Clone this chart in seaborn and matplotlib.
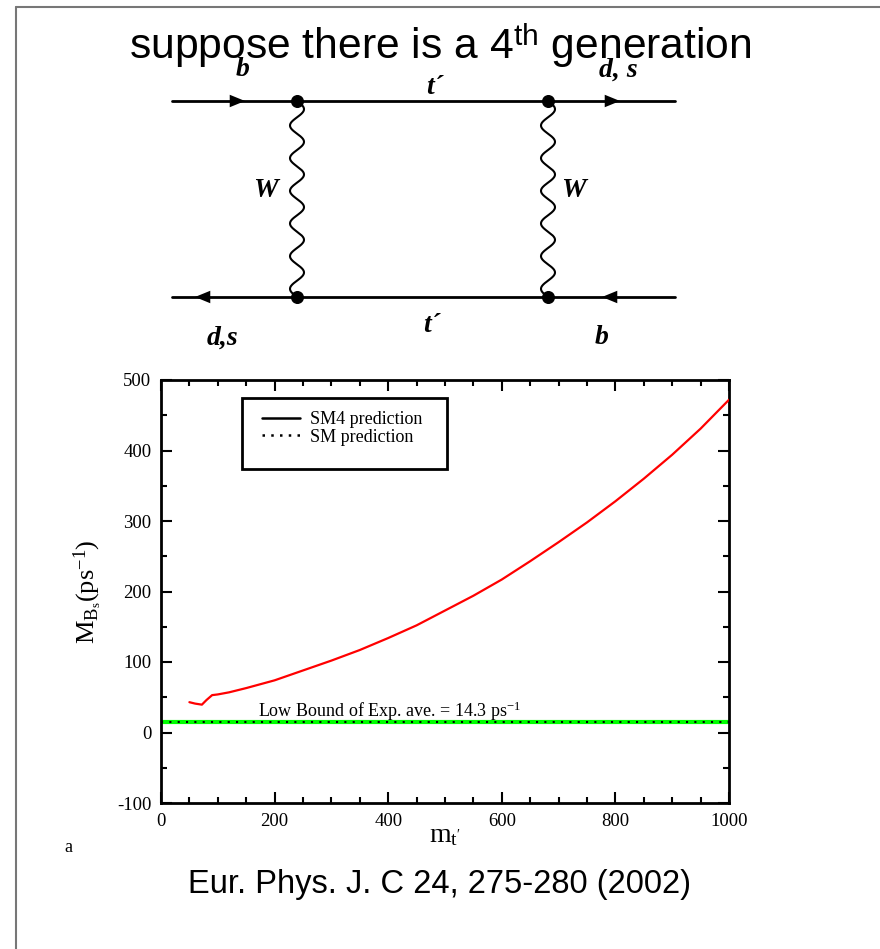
import numpy as np
import matplotlib
matplotlib.use("Agg")
from matplotlib import pyplot as plt
from matplotlib.lines import Line2D
from matplotlib.patches import Rectangle
import seaborn as sns
import pandas as pd

# data
mt = [50, 60, 72, 80, 90, 100, 120, 150, 200, 250, 300, 350, 400, 450, 500,
      550, 600, 650, 700, 750, 800, 850, 900, 950, 1000]
mbs = [43, 41, 39.5, 46, 53, 54, 57, 63, 74, 88, 102, 117, 134, 152, 173,
       194, 217, 243, 270, 298, 328, 360, 394, 431, 472]
low_bound = 14.3
sm_value = 14.3
legend_labels = ["SM4 prediction", "SM prediction"]

sns.set_style("ticks")
plt.rcParams['font.family'] = ['Liberation Serif', 'DejaVu Serif']
plt.rcParams['mathtext.fontset'] = 'custom'
plt.rcParams['mathtext.rm'] = 'Liberation Serif'
plt.rcParams['mathtext.it'] = 'Liberation Serif:italic'
plt.rcParams['mathtext.sf'] = 'Liberation Sans'
plt.rcParams['axes.unicode_minus'] = False
plt.rcParams['text.color'] = 'black'
plt.rcParams['axes.labelcolor'] = 'black'

fig = plt.figure(figsize=(8.8, 9.49), dpi=100)

# ---- Feynman box diagram (pixel coordinates overlay) ----
dax = fig.add_axes([0, 0, 1, 1])
dax.set_xlim(0, 880)
dax.set_ylim(949, 0)
dax.axis("off")

# slide frame (top + left)
dax.plot([16, 880], [7, 7], color="#777777", lw=1.5)
dax.plot([16, 16], [7, 949], color="#777777", lw=1.5)

y_top, y_bot = 101, 297
x_l, x_r = 297, 548
dax.plot([172, 675], [y_top, y_top], color="black", lw=2)
dax.plot([172, 675], [y_bot, y_bot], color="black", lw=2)
for (x, y, d) in [(237, y_top, 1), (612, y_top, 1), (203, y_bot, -1), (610, y_bot, -1)]:
    dax.annotate("", xy=(x + 8 * d, y), xytext=(x - 8 * d, y),
                 arrowprops=dict(arrowstyle="-|>,head_length=1.1,head_width=0.45",
                                 color="black", lw=0, shrinkA=0, shrinkB=0))
yy = np.linspace(y_top, y_bot, 400)
for xv in (x_l, x_r):
    dax.plot(xv + 7 * np.sin((yy - y_top) / (y_bot - y_top) * 2 * np.pi * 6), yy,
             color="black", lw=1.5)
    dax.scatter([xv, xv], [y_top, y_bot], s=70, color="black", zorder=5)

lab = dict(fontsize=20, fontweight="bold", fontstyle="italic", ha="center",
           va="center", family="Liberation Serif", color="black")
dax.text(243, 69, "b", **lab)
dax.text(618, 70, "d, s", **lab)
dax.text(435, 87, "t\u00b4", **lab)
dax.text(265, 190, "W", **lab)
dax.text(573, 190, "W", **lab)
dax.text(222, 338, "d,s", **lab)
dax.text(432, 326, "t\u00b4", **lab)
dax.text(602, 338, "b", **lab)

dax.text(440, 46, "suppose there is a 4$^{\\mathsf{th}}$ generation", fontsize=30.7,
         ha="center", va="center", family="Liberation Sans", color="black")
dax.text(440, 885, "Eur. Phys. J. C 24, 275-280 (2002)", fontsize=23.5,
         ha="center", va="center", family="Liberation Sans", color="black")
dax.text(68, 848, "a", fontsize=13, ha="center", va="center")

# ---- plot ----
ax = fig.add_axes([161 / 880, 1 - 803 / 949, (729 - 161) / 880, (803 - 380) / 949])
df = pd.DataFrame({"mt": mt, "mbs": mbs})
ax.axhline(low_bound, color="#00ff00", lw=3, zorder=2)
ax.axhline(sm_value, color="black", lw=1.5, ls=(0, (1, 3)), zorder=3)
sns.lineplot(data=df, x="mt", y="mbs", ax=ax, color="red", lw=1.6, zorder=4)

ax.set_xlim(0, 1000)
ax.set_ylim(-100, 500)
ax.set_xticks(range(0, 1001, 200))
ax.set_xticks(range(0, 1001, 50), minor=True)
ax.set_yticks(range(-100, 501, 100))
ax.set_yticks(range(-100, 501, 50), minor=True)
ax.tick_params(which="both", direction="in", top=True, right=True, labelsize=13.5,
               width=1.5, colors="black")
ax.tick_params(which="major", length=8, pad=7)
ax.tick_params(which="minor", length=4)
for s in ax.spines.values():
    s.set_linewidth(2)
    s.set_color("black")

ax.set_xlabel("m$_{\\mathrm{t}^{\\prime}}$", fontsize=20, labelpad=-5)
ax.set_ylabel("M$_{\\mathrm{B_s}}$(ps$^{\\mathrm{-1}}$)", fontsize=19, labelpad=9)

ax.text(171, 22, "Low Bound of Exp. ave. = 14.3 ps$^{\\mathrm{-1}}$", fontsize=13)

ax.add_patch(Rectangle((0.143, 0.79), 0.36, 0.167, transform=ax.transAxes,
                       fill=False, edgecolor="black", lw=2, zorder=5))
handles = [Line2D([], [], color="black", lw=1.8),
           Line2D([], [], color="black", lw=1.8, ls=(0, (1, 2.5)))]
ax.legend(handles, legend_labels, loc="upper left", bbox_to_anchor=(0.155, 0.957),
          frameon=False, fontsize=13, handlelength=2.1, labelspacing=0.05,
          borderpad=0.2, handletextpad=0.6)

fig.savefig("out.png", dpi=100)
